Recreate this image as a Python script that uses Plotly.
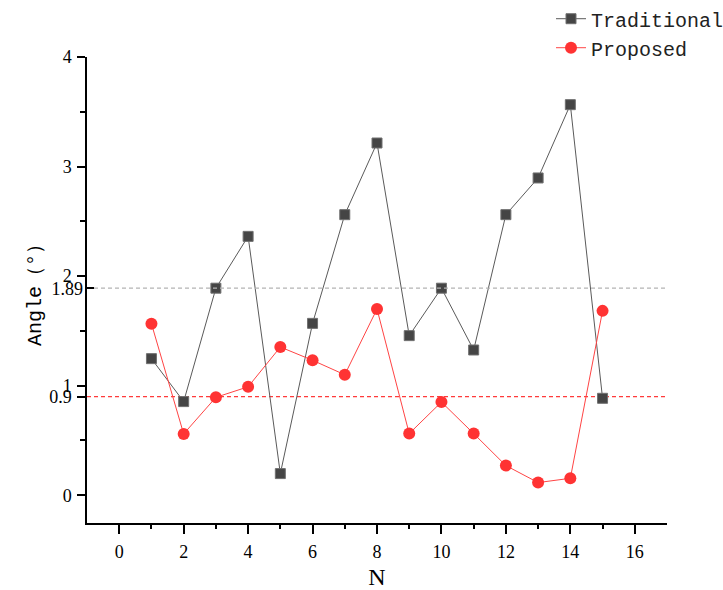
import plotly.graph_objects as go

# ---- data ----
n_values = list(range(1, 16))
traditional = [1.247, 0.855, 1.89, 2.363, 0.198, 1.569, 2.561, 3.215, 1.457, 1.89, 1.326, 2.561, 2.896, 3.565, 0.885]
proposed = [1.566, 0.56, 0.894, 0.99, 1.353, 1.232, 1.10, 1.70, 0.563, 0.851, 0.563, 0.271, 0.116, 0.155, 1.683]
mean_traditional = 1.89
mean_proposed = 0.9
y_tickvals = [0, mean_proposed, 1, 2, 3, 4]
y_ticktext = ["0", "0.9", "1", "2", "3", "4"]
y2_tickvals = [mean_traditional]
y2_ticktext = ["1.89"]
x_tickvals = [0, 2, 4, 6, 8, 10, 12, 14, 16]
x_range = [-1, 17]
y_range = [-0.253, 4.0]

SERIF = "Liberation Serif"
MONO = "Liberation Mono"

fig = go.Figure()

# mean reference lines (drawn first, beneath the series)
fig.add_trace(go.Scatter(
    x=x_range, y=[mean_traditional, mean_traditional], yaxis="y2",
    mode="lines", line=dict(color="#b4b4b4", width=1.2, dash="4px,3px"),
    showlegend=False, hoverinfo="skip",
))
fig.add_trace(go.Scatter(
    x=x_range, y=[mean_proposed, mean_proposed],
    mode="lines", line=dict(color="#ff3b3b", width=1.2, dash="4px,3px"),
    showlegend=False, hoverinfo="skip",
))

fig.add_trace(go.Scatter(
    x=n_values, y=traditional, name="Traditional", mode="lines+markers",
    line=dict(color="#5a5a5a", width=1),
    marker=dict(symbol="square", size=10, color="#454545",
                line=dict(color="#707070", width=1)),
))
fig.add_trace(go.Scatter(
    x=n_values, y=proposed, name="Proposed", mode="lines+markers",
    line=dict(color="#ff4444", width=1),
    marker=dict(symbol="circle", size=12, color="#ff3333",
                line=dict(color="#ff3333", width=0)),
))

fig.update_layout(
    width=723, height=590,
    margin=dict(l=87, r=56, t=57, b=67, autoexpand=False),
    paper_bgcolor="white", plot_bgcolor="white",
    showlegend=True,
    legend=dict(x=0.80, y=1.124, xanchor="left", yanchor="top",
                font=dict(family=MONO, size=20, color="#222222"),
                bgcolor="rgba(0,0,0,0)", tracegroupgap=0),
    font=dict(family=SERIF, color="black"),
    xaxis=dict(
        range=x_range, tickvals=x_tickvals,
        showline=True, linecolor="black", linewidth=1.5, mirror=False,
        ticks="outside", ticklen=9, tickwidth=1.5, tickcolor="black",
        minor=dict(tickvals=[1, 3, 5, 7, 9, 11, 13, 15], ticks="outside",
                   ticklen=4, tickwidth=1.5, tickcolor="black"),
        showgrid=False, zeroline=False,
        tickfont=dict(family=SERIF, size=18, color="black"),
        ticklabelstandoff=3,
        title=dict(text="N", font=dict(family=SERIF, size=24, color="black"), standoff=10),
    ),
    yaxis=dict(
        range=y_range, tickvals=y_tickvals, ticktext=y_ticktext,
        showline=True, linecolor="black", linewidth=1.5, mirror=False,
        ticks="outside", ticklen=8, tickwidth=1.5, tickcolor="black",
        minor=dict(tickvals=[0.5, 1.5, 2.5, 3.5], ticks="outside",
                   ticklen=5, tickwidth=1.5, tickcolor="black"),
        showgrid=False, zeroline=False,
        tickfont=dict(family=SERIF, size=18, color="black"),
        ticklabelstandoff=2,
        title=dict(text="Angle（°）", font=dict(family=MONO, size=20, color="black"), standoff=2),
    ),
    yaxis2=dict(
        overlaying="y", side="left", anchor="x", range=y_range,
        tickvals=y2_tickvals, ticktext=y2_ticktext,
        ticks="inside", ticklen=7, tickwidth=1.5, tickcolor="black",
        showline=False, showgrid=False, zeroline=False,
        tickfont=dict(family=SERIF, size=18, color="black"),
        ticklabelstandoff=3,
    ),
)

fig.write_html("out.html")
